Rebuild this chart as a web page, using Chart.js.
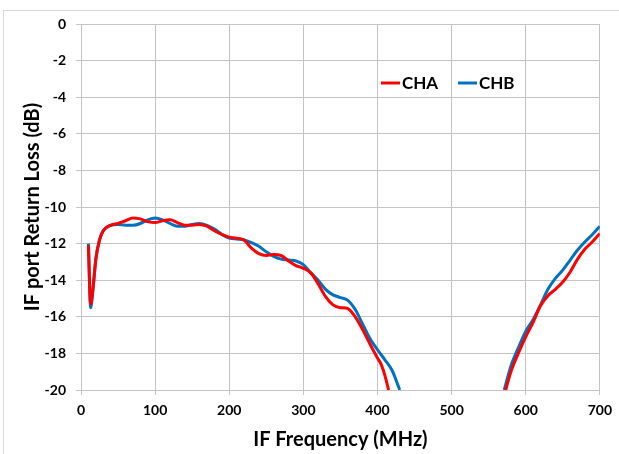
<!DOCTYPE html>
<html>
<head>
<meta charset="utf-8">
<script src="https://cdn.jsdelivr.net/npm/chart.js@4/dist/chart.umd.min.js"></script>
<style>
  html, body { margin: 0; padding: 0; background: #ffffff; }
  #wrap { position: relative; width: 619px; height: 454px; overflow: hidden; }
  #frame { position: absolute; left: 3px; top: 10px; width: 700px; height: 600px; border: 1px solid #d9d9d9; pointer-events: none; }
  canvas { position: absolute; left: 0; top: 0; }
</style>
</head>
<body>
<div id="wrap">
  <div id="frame"></div>
  <canvas id="c" width="619" height="454"></canvas>
</div>
<script>
// ---- Data ----
const seriesNames = ["CHA", "CHB"];

const chaFreq = [10, 13, 16, 20, 25, 30, 40, 50, 60, 70, 80, 90, 100, 110, 120, 130, 140, 150, 160, 170, 180, 190, 200, 210, 220, 230, 240, 250, 260, 270, 280, 290, 300, 310, 320, 330, 340, 350, 360, 370, 380, 390, 400, 405, 410, 415,
                 500,
                 573, 580, 590, 600, 610, 620, 630, 640, 650, 660, 670, 680, 690, 700];
const chaLoss = [-12.1, -15.3, -14.5, -12.9, -11.8, -11.3, -11.0, -10.9, -10.75, -10.6, -10.65, -10.8, -10.85, -10.75, -10.7, -10.85, -11.0, -11.0, -10.95, -11.05, -11.3, -11.5, -11.65, -11.7, -11.8, -12.25, -12.55, -12.65, -12.6, -12.65, -12.95, -13.2, -13.35, -13.6, -14.2, -14.9, -15.35, -15.5, -15.55, -16.0, -16.7, -17.5, -18.25, -18.6, -19.2, -20.0,
                 null,
                 -20.0, -19.0, -18.0, -17.1, -16.3, -15.4, -14.85, -14.5, -14.1, -13.55, -12.85, -12.3, -11.9, -11.45];

const chbFreq = [10, 13, 16, 20, 25, 30, 40, 50, 60, 70, 80, 90, 100, 110, 120, 130, 140, 150, 160, 170, 180, 190, 200, 210, 220, 230, 240, 250, 260, 270, 280, 290, 300, 310, 320, 330, 340, 350, 360, 370, 380, 390, 400, 410, 420, 425, 430,
                 500,
                 571, 580, 590, 600, 610, 620, 630, 640, 650, 660, 670, 680, 690, 700];
const chbLoss = [-12.0, -15.5, -14.6, -12.8, -11.8, -11.3, -11.0, -10.95, -11.0, -11.0, -10.9, -10.7, -10.6, -10.7, -10.9, -11.05, -11.05, -10.95, -10.9, -11.0, -11.2, -11.5, -11.7, -11.75, -11.8, -11.95, -12.15, -12.45, -12.7, -12.85, -12.9, -12.95, -13.15, -13.6, -14.0, -14.5, -14.8, -14.95, -15.1, -15.6, -16.4, -17.2, -17.8, -18.35, -18.95, -19.45, -20.0,
                 null,
                 -20.0, -18.7, -17.7, -16.8, -16.15, -15.35, -14.5, -13.9, -13.45, -12.9, -12.35, -11.9, -11.5, -11.05];

const xTicks = [0, 100, 200, 300, 400, 500, 600, 700];
const yTicks = [0, -2, -4, -6, -8, -10, -12, -14, -16, -18, -20];

const xTitle = "IF Frequency (MHz)";
const yTitle = "IF port Return Loss (dB)";

// ---- Build ----
function pts(fx, fy) { return fx.map((x, i) => ({ x: x, y: fy[i] })); }

const FONT = "Lato, 'Open Sans', 'Liberation Sans', sans-serif";
const GRID = "#c4c4c4";

const legendPlugin = {
  id: "insideLegend",
  afterDraw(chart) {
    const ctx = chart.ctx;
    const items = [
      { x0: 381, x1: 400, tx: 402 },
      { x0: 458, x1: 477, tx: 479 }
    ];
    ctx.save();
    ctx.font = "bold 17px " + FONT;
    ctx.textBaseline = "middle";
    ctx.textAlign = "left";
    chart.data.datasets.forEach((ds, i) => {
      const it = items[i];
      const y = 83;
      ctx.strokeStyle = ds.borderColor;
      ctx.lineWidth = 3;
      ctx.beginPath();
      ctx.moveTo(it.x0, y);
      ctx.lineTo(it.x1, y);
      ctx.stroke();
      ctx.fillStyle = "#000";
      ctx.fillText(ds.label, it.tx, y + 1);
    });
    ctx.restore();
  }
};

new Chart(document.getElementById("c"), {
  type: "line",
  data: {
    datasets: [
      { label: seriesNames[0], data: pts(chaFreq, chaLoss), borderColor: "#ff0000", backgroundColor: "#ff0000", borderWidth: 3, pointRadius: 0, cubicInterpolationMode: "monotone", spanGaps: false },
      { label: seriesNames[1], data: pts(chbFreq, chbLoss), borderColor: "#0070c0", backgroundColor: "#0070c0", borderWidth: 3, pointRadius: 0, cubicInterpolationMode: "monotone", spanGaps: false }
    ]
  },
  options: {
    responsive: false,
    animation: false,
    events: [],
    layout: { padding: { top: 24, right: 17, bottom: 0, left: 0 } },
    plugins: { legend: { display: false }, tooltip: { enabled: false } },
    scales: {
      x: {
        type: "linear",
        min: 0, max: 700,
        afterBuildTicks(axis) { axis.ticks = xTicks.map(v => ({ value: v })); },
        afterFit(axis) { axis.height = 64; },
        grid: { color: GRID, lineWidth: 1, tickLength: 5, drawTicks: true },
        border: { color: GRID, width: 1 },
        ticks: { color: "#000", font: { family: FONT, size: 14, weight: "bold" }, padding: 7, maxRotation: 0 },
        title: { display: true, text: xTitle, color: "#000", font: { family: FONT, size: 20, weight: "bold" }, padding: { top: 0, bottom: 2 } }
      },
      y: {
        type: "linear",
        min: -20, max: 0,
        afterBuildTicks(axis) { axis.ticks = yTicks.slice().reverse().map(v => ({ value: v })); },
        afterFit(axis) { axis.width = 81; },
        grid: { color: GRID, lineWidth: 1, tickLength: 5, drawTicks: true },
        border: { color: GRID, width: 1 },
        ticks: { color: "#000", font: { family: FONT, size: 14, weight: "bold" }, padding: 10 },
        title: { display: true, text: yTitle, color: "#000", font: { family: FONT, size: 20, weight: "bold" }, padding: { top: 21, bottom: 0 } }
      }
    }
  },
  plugins: [legendPlugin]
});
</script>
</body>
</html>
